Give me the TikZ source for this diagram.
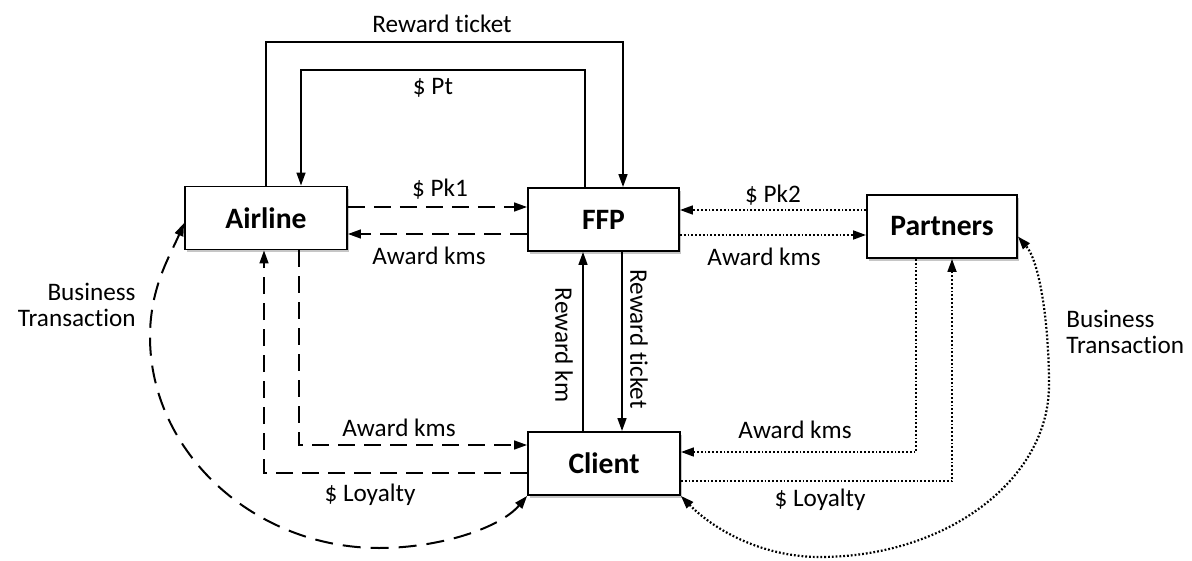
\documentclass[tikz,border=0pt]{standalone}
\usepackage{fontspec}
\setmainfont{Carlito}[Ligatures=NoCommon]
\usetikzlibrary{arrows.meta,calc,shadows}
\begin{document}
\begin{tikzpicture}[x=0.5pt,y=-0.5pt,
  box/.style={draw, line width=0.9pt, fill=white, inner sep=0pt, minimum width=#1, minimum height=31.5pt,
    font=\fontsize{14.8}{17}\selectfont\bfseries,
    drop shadow={shadow xshift=1.2pt,shadow yshift=-1.4pt,opacity=0.45}},
  lbl/.style={font=\fontsize{12.6}{13}\selectfont, inner sep=0pt},
  tip/.style={-{Triangle[length=6.5pt,width=4.4pt]}},
  tips/.style={{Triangle[length=6.5pt,width=4.4pt]}-{Triangle[length=6.5pt,width=4.4pt]}},
  sol/.style={line width=1pt, tip},
  dsh/.style={line width=1pt, dash pattern=on 8.5pt off 4.5pt, tip},
  dot/.style={line width=1.1pt, dash pattern=on 0.9pt off 1pt, tip},
  dshc/.style={line width=1pt, dash pattern=on 9pt off 5pt, tips},
  dotc/.style={line width=1.1pt, dash pattern=on 0.9pt off 1pt, tips}
]
\path[use as bounding box] (0,0) rectangle (1192,561);

% boxes
\node[box=81pt] (airline) at (266,218) {Airline};
\node[box=75.5pt] (ffp) at (603.5,219.5) {FFP};
\node[box=75pt] (partners) at (942,226.5) {Partners};
\node[box=76pt] (client) at (604,463.5) {Client};

% top loops
\draw[sol] (airline.north) -- ++(0,-144) -| ($(ffp.north)+(19.5,0)$);
\draw[sol] ($(ffp.north)+(-18.5,0)$) -- ++(0,-117) -| ($(airline.north)+(35,0)$);

% Airline <-> FFP
\draw[dsh] ($(airline.east)+(0,-11)$) coordinate (a1) -- (a1 -| ffp.west);
\draw[dsh] ($(ffp.west)+(0,14.5)$) coordinate (a2) -- (a2 -| airline.east);

% FFP <-> Partners
\draw[dot] ($(partners.west)+(0,-16.5)$) coordinate (a3) -- (a3 -| ffp.east);
\draw[dot] ($(ffp.east)+(0,15.5)$) coordinate (a4) -- (a4 -| partners.west);

% FFP <-> Client
\draw[sol] ($(client.north)+(-21,0)$) coordinate (a5) -- (a5 |- ffp.south);
\draw[sol] ($(ffp.south)+(18.5,0)$) coordinate (a6) -- (a6 |- client.north);

% Airline <-> Client
\draw[dsh] ($(airline.south)+(33,0)$) |- ($(client.west)+(0,-18.5)$);
\draw[dsh] ($(client.west)+(0,9.5)$) -| ($(airline.south)+(-2,0)$);

% Partners <-> Client
\draw[dot] ($(partners.south)+(-26,0)$) |- ($(client.east)+(0,-11.5)$);
\draw[dot] ($(client.east)+(0,17.5)$) -| ($(partners.south)+(10,0)$);

% business transaction curves
\draw[dshc] (client.south west) .. controls (500,528) and (440,548) .. (379,548)
  .. controls (254,548) and (150,452) .. (150,337)
  .. controls (150,287) and (170,256) .. ($(airline.west)+(0,5)$);
\draw[dotc] (client.south east) .. controls (712,528) and (760,557) .. (820,557)
  .. controls (946,557) and (1049,480) .. (1049,385)
  .. controls (1049,325) and (1040,262) .. ($(partners.east)+(0,10)$);

% labels
\node[lbl] (l1) at (442,24) {Reward ticket};
\node[lbl] (l2) at (433,88) {\$ Pt};
\node[lbl] (l3) at (440,189) {\$ Pk1};
\node[lbl] (l4) at (429,256) {Award kms};
\node[lbl] (l5) at (773,195) {\$ Pk2};
\node[lbl] (l6) at (764,257) {Award kms};
\node[lbl] (l7) at (399,428) {Award kms};
\node[lbl] (l8) at (370,495) {\$ Loyalty};
\node[lbl] (l9) at (795,430) {Award kms};
\node[lbl] (l10) at (820,500) {\$ Loyalty};
\node[lbl, rotate=-90] (l11) at (564,345) {Reward km};
\node[lbl, rotate=-90] (l12) at (639,339) {Reward ticket};
\node[lbl, align=right, anchor=east] (l13) at (136,305) {Business\\Transaction};
\node[lbl, align=left, anchor=west] (l14) at (1066,332) {Business\\Transaction};
\end{tikzpicture}
\end{document}
